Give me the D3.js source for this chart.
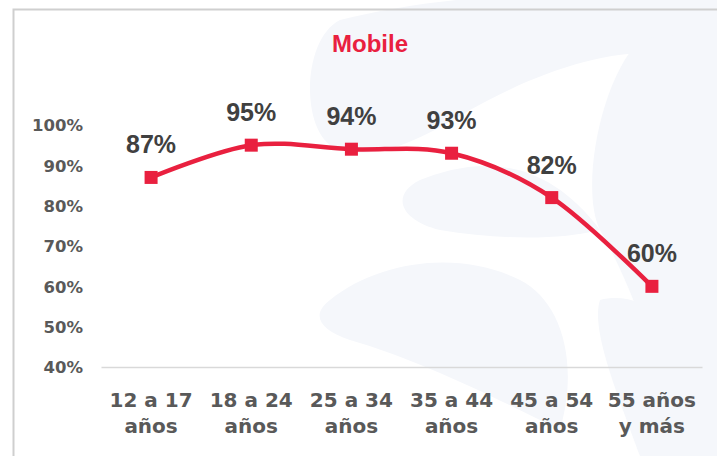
<!DOCTYPE html>
<meta charset="utf-8">
<head>
    <title>Mobile</title>
</head>
<style>
    body { margin: 0; background: #fff; }
    svg { display: block; }
</style>
<script src="https://d3js.org/d3.v7.min.js"></script>
<body>
    <div id="chart"></div>
</body>
<script>

    // data
    var categories = [["12 a 17", "años"], ["18 a 24", "años"], ["25 a 34", "años"],
                      ["35 a 44", "años"], ["45 a 54", "años"], ["55 años", "y más"]];
    var mobileValues = [87, 95, 94, 93, 82, 60];
    var yTicks = [40, 50, 60, 70, 80, 90, 100];

    var W = 717, H = 456;
    var red = "#e9203f";

    var svg = d3.select("#chart")
        .append("svg")
        .attr("width", W)
        .attr("height", H);

    // faint watermark in the background
    var wm = svg.append("g").attr("fill", "#f5f7fb");
    wm.append("path").attr("d", "M340,20 C420,0 520,-10 600,0 L717,0 L717,60 C640,40 560,60 470,110 C420,140 380,160 340,150 C300,140 300,40 340,20 Z");
    wm.append("path").attr("d", "M640,40 C690,30 717,40 717,40 L717,456 L690,456 C660,380 640,300 600,230 C580,190 600,80 640,40 Z");
    wm.append("path").attr("d", "M420,180 C470,160 540,150 600,230 C560,240 500,240 440,230 C400,220 390,195 420,180 Z");
    wm.append("path").attr("d", "M330,300 C380,260 460,250 520,280 C560,300 580,360 560,430 C500,400 420,360 350,340 C320,330 310,315 330,300 Z");
    wm.append("path").attr("d", "M600,300 C640,290 680,320 700,380 L700,456 L640,456 C620,400 590,330 600,300 Z");

    // frame
    svg.append("path")
        .attr("d", "M13.5," + H + " V9.5 H" + W)
        .attr("fill", "none")
        .attr("stroke", "#cfcfcf")
        .attr("stroke-width", 2);

    // scales
    var x = d3.scaleBand()
        .domain(d3.range(categories.length))
        .range([101, 702]);

    var y = d3.scaleLinear()
        .domain([40, 100])
        .range([367, 125]);

    // title
    svg.append("text")
        .attr("x", 370)
        .attr("y", 52)
        .attr("text-anchor", "middle")
        .attr("font-family", "Liberation Sans, Arial, sans-serif")
        .attr("font-weight", "bold")
        .attr("font-size", 24)
        .attr("fill", red)
        .text("Mobile");

    // y axis
    var yAxis = svg.append("g")
        .attr("transform", "translate(83,0)")
        .call(d3.axisLeft(y).tickValues(yTicks).tickSize(0).tickPadding(0)
            .tickFormat(function (d) { return d + "%"; }));
    yAxis.select(".domain").remove();
    yAxis.selectAll("text")
        .attr("font-family", "DejaVu Sans, sans-serif")
        .attr("font-weight", "bold")
        .attr("font-size", 16.5)
        .attr("fill", "#595959")
        .attr("dy", "0.36em");

    // x axis
    var xAxis = svg.append("g")
        .attr("transform", "translate(0,367)")
        .call(d3.axisBottom(x).tickSize(0).tickFormat(""));
    xAxis.select(".domain")
        .attr("stroke", "#d9d9d9")
        .attr("stroke-width", 1.5);

    var xLabels = svg.append("g")
        .attr("font-family", "DejaVu Sans, sans-serif")
        .attr("font-weight", "bold")
        .attr("font-size", 20)
        .attr("fill", "#595959")
        .attr("text-anchor", "middle");

    categories.forEach(function (c, i) {
        var t = xLabels.append("text")
            .attr("x", x(i) + x.bandwidth() / 2)
            .attr("y", 407);
        t.append("tspan").text(c[0]);
        t.append("tspan")
            .attr("x", x(i) + x.bandwidth() / 2)
            .attr("y", 433)
            .text(c[1]);
    });

    // line
    var line = d3.line()
        .curve(d3.curveCardinal.tension(0))
        .x(function (d, i) { return x(i) + x.bandwidth() / 2; })
        .y(function (d) { return y(d); });

    svg.append("path")
        .datum(mobileValues)
        .attr("fill", "none")
        .attr("stroke", red)
        .attr("stroke-width", 4.5)
        .attr("stroke-linejoin", "round")
        .attr("d", line);

    // markers
    var ms = 13;
    svg.append("g")
        .selectAll("rect")
        .data(mobileValues)
        .join("rect")
        .attr("x", function (d, i) { return x(i) + x.bandwidth() / 2 - ms / 2; })
        .attr("y", function (d) { return y(d) - ms / 2; })
        .attr("width", ms)
        .attr("height", ms)
        .attr("fill", red);

    // data labels
    svg.append("g")
        .selectAll("text")
        .data(mobileValues)
        .join("text")
        .attr("x", function (d, i) { return x(i) + x.bandwidth() / 2; })
        .attr("y", function (d) { return y(d) - 24; })
        .attr("text-anchor", "middle")
        .attr("font-family", "Liberation Sans, Arial, sans-serif")
        .attr("font-weight", "bold")
        .attr("font-size", 25)
        .attr("fill", "#404040")
        .text(function (d) { return d + "%"; });

</script>
